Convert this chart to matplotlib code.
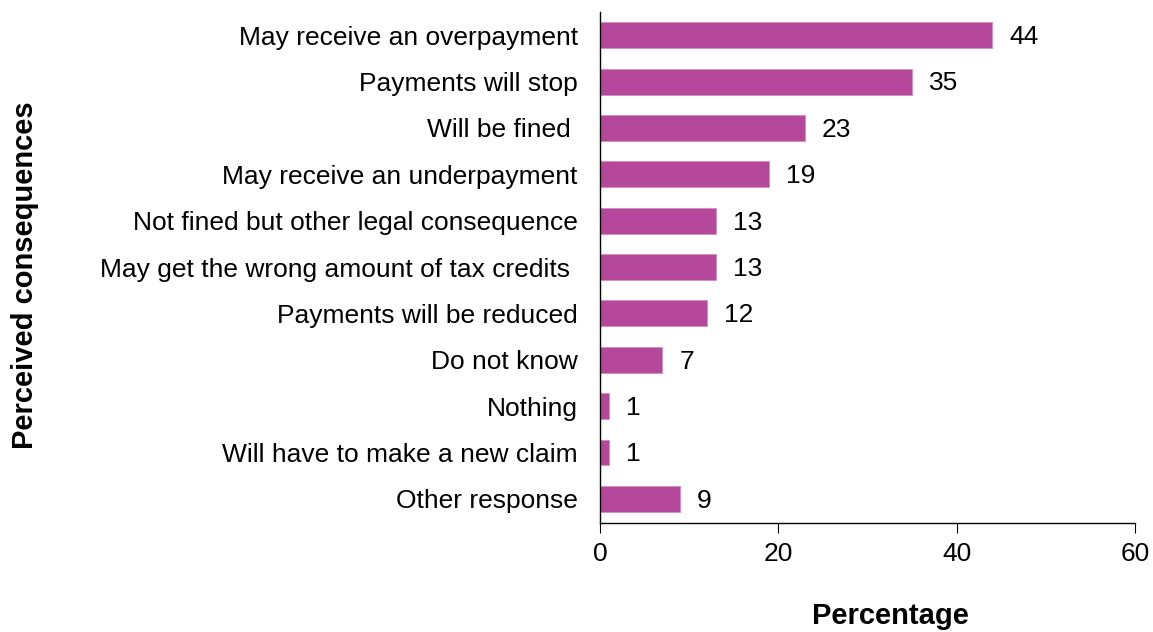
import matplotlib
matplotlib.use("Agg")
import matplotlib.pyplot as plt

categories = [
    "May receive an overpayment",
    "Payments will stop",
    "Will be fined ",
    "May receive an underpayment",
    "Not fined but other legal consequence",
    "May get the wrong amount of tax credits ",
    "Payments will be reduced",
    "Do not know",
    "Nothing",
    "Will have to make a new claim",
    "Other response",
]
values = [44, 35, 23, 19, 13, 13, 12, 7, 1, 1, 9]
x_ticks = [0, 20, 40, 60]

plt.rcParams["font.family"] = ["Liberation Sans", "DejaVu Sans"]

fig = plt.figure(figsize=(11.53, 6.32), dpi=100)
ax = fig.add_axes([0.5204, 0.1725, 0.4640, 0.8085])

pos = list(range(len(categories)))
ax.barh(pos, values, height=0.56, color="#B5489A", edgecolor="#D58CC2", linewidth=0.6)

for y, v in zip(pos, values):
    ax.text(v + 1.9, y + 0.04, str(v), va="center", ha="left", fontsize=19, color="black")

ax.set_ylim(10.52, -0.5)
ax.set_xlim(0, 60)
ax.set_yticks(pos)
ax.set_yticklabels(categories, fontsize=19)
ax.tick_params(axis="y", length=0, pad=16)
ax.set_xticks(x_ticks)
ax.tick_params(axis="x", labelsize=19, length=7, direction="out", pad=7)

for side in ["top", "right"]:
    ax.spines[side].set_visible(False)
for side in ["left", "bottom"]:
    ax.spines[side].set_linewidth(1.0)
    ax.spines[side].set_color("black")

ax.set_xlabel("Percentage", fontsize=21, fontweight="bold", labelpad=30)
ax.xaxis.set_label_coords(0.542, -0.155)
fig.text(0.022, 0.565, "Perceived consequences", rotation=90, fontsize=21,
         fontweight="bold", ha="center", va="center")

fig.savefig("out.png", dpi=100)
